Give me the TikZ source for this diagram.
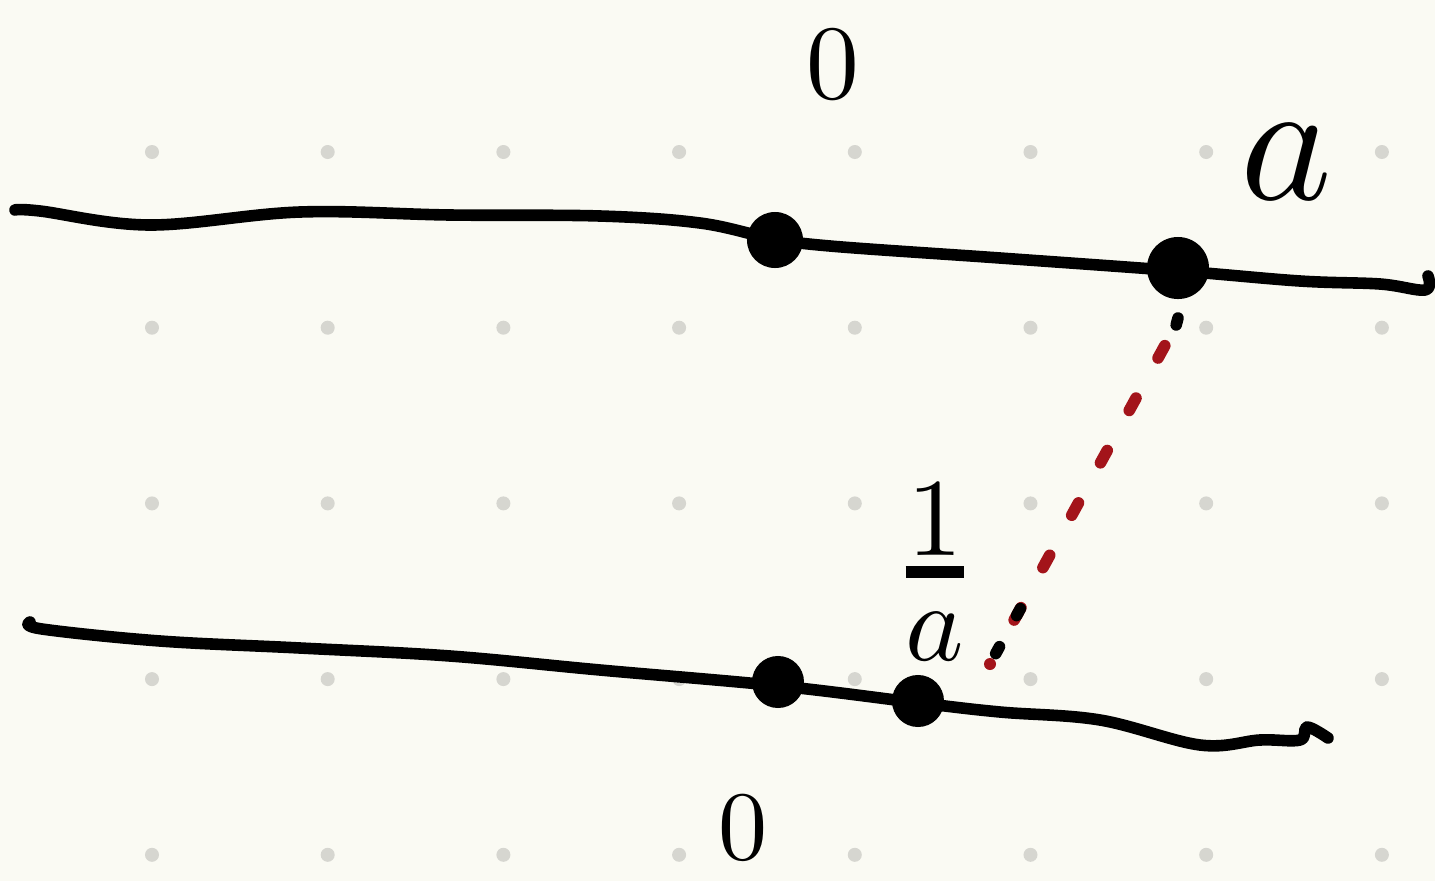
\documentclass[tikz,border=0pt]{standalone}
\usepackage{amsmath}
\usetikzlibrary{calc}
\definecolor{papel}{HTML}{FAFAF3}
\definecolor{rejilla}{HTML}{D6D6D0}
\definecolor{rojo}{HTML}{A3141A}
\begin{document}
\begin{tikzpicture}[x=0.01cm,y=-0.01cm,line width=3.3pt,line cap=round,line join=round,
  dot/.style={circle,fill=black,inner sep=0pt,minimum size=#1},
  etiq/.style={inner sep=0pt,scale=3}]
  % fondo y rejilla de puntos
  \fill[papel] (0,0) rectangle (1435,881);
  \useasboundingbox (0,0) rectangle (1435,881);
  \foreach \i in {0,...,7} \foreach \j in {0,...,4}
    \fill[rejilla] (152+175.7*\i,152+175.7*\j) circle(0.07cm);
  % recta de arriba
  \draw plot[smooth,tension=0.6] coordinates {(15,210)(40,211)(150,225)(300,212)(450,215)
    (600,216)(700,223)(770,238)(830,246)(1000,258)(1180,271)(1300,281)(1380,284)(1425,290)(1428,276)};
  \node[dot=0.56cm] (p0) at (775,240) {};
  \node[dot=0.62cm] (pa) at (1178,268) {};
  \node[etiq] (cero1) at (833,64) {$0$};
  \node[etiq,scale=1.65] (la) at (1287,162) {$a$};
  % recta de abajo
  \draw plot[smooth,tension=0.6] coordinates {(30,622)(42,629)(160,641)(300,648)(450,656)
    (600,670)(780,686)(920,703)(1000,712)(1100,720)(1200,745)(1260,740)(1300,740)(1307,727)(1328,738)};
  \node[dot=0.52cm] (q0) at (778,682) {};
  \node[dot=0.52cm] (qa) at (918,701) {};
  \node[etiq,scale=0.93] (cero2) at (743,828) {$0$};
  \node[etiq,scale=1.05] (inv) at (935,572)
    {$\genfrac{}{}{1pt}{1}{\textstyle 1}{\textstyle\vphantom{1}a}$};
  % union a con 1/a
  \coordinate (ini) at (1180,318);
  \coordinate (fin) at (990,664);
  \draw[rojo,dash pattern=on 4pt off 13pt] ($(ini)!0.08!(fin)$) -- ($(ini)!0.9!(fin)$);
  \draw ($(ini)+(-2,0)$) -- ($(ini)!0.02!(fin)$);
  \draw ($(ini)!0.84!(fin)$) -- ($(ini)!0.86!(fin)$);
  \draw ($(ini)!0.95!(fin)$) -- ($(ini)!0.97!(fin)$);
  \fill[rojo] (fin) circle(0.06cm);
\end{tikzpicture}
\end{document}
